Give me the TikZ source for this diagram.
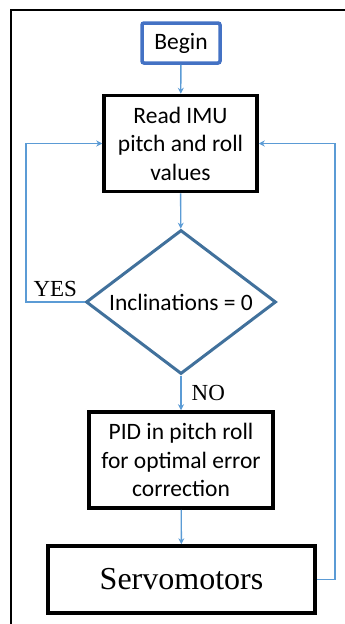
\documentclass[tikz,border=0pt]{standalone}
\usepackage{fontspec}
\setmainfont{Carlito}
\newfontfamily\timesfont{Liberation Serif}
\usepackage{tikz}
\usetikzlibrary{shapes.geometric,arrows.meta,positioning}
\definecolor{linkblue}{HTML}{5B9BD5}
\definecolor{startblue}{HTML}{4472C4}
\definecolor{decblue}{HTML}{41719C}

\begin{document}
\begin{tikzpicture}[
    x=1pt, y=-1pt,
    box/.style={rectangle, draw, line width=3.5pt, align=center, inner sep=0pt,
        font=\fontsize{23.5}{28.5}\selectfont},
    decision/.style={diamond, draw=decblue, line width=3pt, aspect=1.32, inner sep=0pt,
        minimum width=190pt, minimum height=144pt, font=\fontsize{23.5}{28}\selectfont},
    arrow/.style={-{Stealth[length=6pt,width=6pt]}, linkblue, line width=1.4pt},
    lbl/.style={font=\timesfont\fontsize{23}{23}\selectfont, text=black, inner sep=2pt}
]
    \useasboundingbox (0,0) rectangle (345,624);
    % outer frame
    \draw[line width=2pt] (11,630) -- (11,9.5) -- (350,9.5);

    \node[box, draw=startblue, rounded corners=2pt, minimum width=78pt, minimum height=40pt] (begin) at (181,43) {Begin};
    \node[box, minimum width=153pt, minimum height=96pt] (read) at (180.5,143.5) {Read IMU\\pitch and roll\\values};
    \node[decision] (incl) at (181,302) {Inclinations = 0};
    \node[box, minimum width=184pt, minimum height=96pt] (pid) at (181,460) {PID in pitch roll\\for optimal error\\correction};
    \node[box, minimum width=267pt, minimum height=67pt, font=\timesfont\fontsize{32}{32}\selectfont] (servo) at (181.5,579.5) {Servomotors};

    \draw[arrow] (begin) -- (read);
    \draw[arrow] (read) -- (incl);
    \draw[arrow] (incl) -- node[lbl, right=8pt] {NO} (pid);
    \draw[arrow] (pid) -- (servo);
    % loops back to reading
    \draw[arrow] (incl.west) -- node[lbl, above, yshift=3pt] {YES} (26,302) |- (read.west);
    \draw[arrow] (servo.east) -- (335,579.5) |- (read.east);
\end{tikzpicture}
\end{document}
